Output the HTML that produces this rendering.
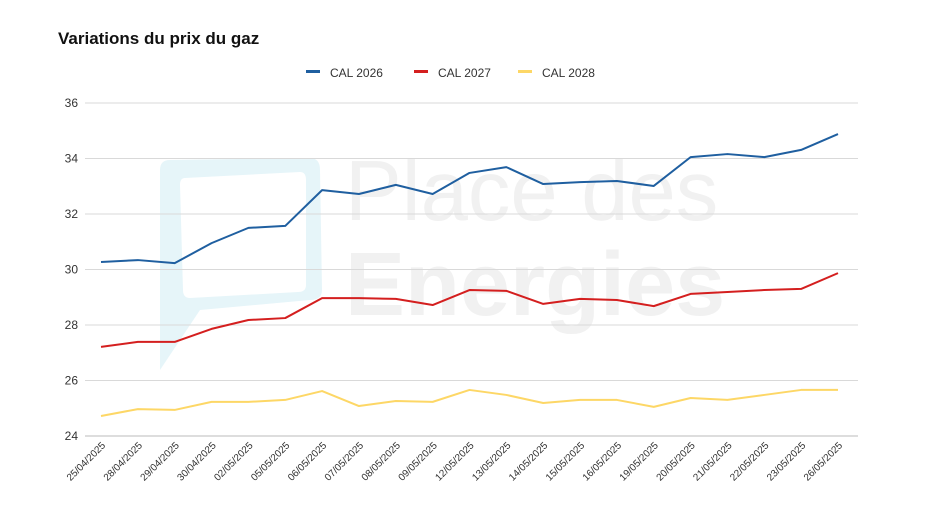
<!DOCTYPE html>
<html><head><meta charset="utf-8"><style>
body{margin:0;background:#fff;width:936px;height:526px;overflow:hidden;font-family:"Liberation Sans",Arial,sans-serif}
svg text{font-family:"Liberation Sans",Arial,sans-serif}
</style></head><body>
<svg id="chart" width="936" height="526" viewBox="0 0 936 526">
<text x="58" y="44" font-size="17" font-weight="bold" fill="#111">Variations du prix du gaz</text>
<g opacity="1">
<path d="M170 160 L310 158 Q320 158 320 170 L322 290 Q322 300 310 300 L200 310 L160 370 L160 170 Q160 160 170 160 Z" fill="#e6f5f9"/>
<path d="M185 178 L300 172 Q306 172 306 180 L306 285 Q306 292 298 292 L190 298 Q183 298 183 290 L180 185 Q180 178 185 178 Z" fill="#fff"/>
<text x="345" y="220" font-size="85" fill="#f1f1f1">Place des</text>
<text x="345" y="315" font-size="90" font-weight="bold" fill="#f1f1f1">Energies</text>
</g>
<g id="grid"></g><g id="series"></g><g id="xlabels"></g>
<g font-size="12" fill="#333">
<g><rect x="306" y="70" width="14" height="3" fill="#1f5fa0"/><text x="330" y="77">CAL 2026</text></g>
<g><rect x="414" y="70" width="14" height="3" fill="#d41f1f"/><text x="438" y="77">CAL 2027</text></g>
<g><rect x="518" y="70" width="14" height="3" fill="#fdd766"/><text x="542" y="77">CAL 2028</text></g>
</g>
</svg>
<script>
const dates=["25/04/2025","28/04/2025","29/04/2025","30/04/2025","02/05/2025","05/05/2025","06/05/2025","07/05/2025","08/05/2025","09/05/2025","12/05/2025","13/05/2025","14/05/2025","15/05/2025","16/05/2025","19/05/2025","20/05/2025","21/05/2025","22/05/2025","23/05/2025","26/05/2025"];
const cal2026=[30.27,30.34,30.23,30.95,31.50,31.57,32.86,32.72,33.05,32.72,33.48,33.69,33.08,33.15,33.19,33.01,34.05,34.16,34.05,34.31,34.88];
const cal2027=[27.21,27.39,27.39,27.86,28.18,28.25,28.97,28.97,28.94,28.72,29.26,29.23,28.76,28.94,28.90,28.68,29.12,29.19,29.26,29.30,29.87];
const cal2028=[24.72,24.97,24.94,25.23,25.23,25.30,25.62,25.08,25.26,25.23,25.66,25.48,25.19,25.30,25.30,25.05,25.37,25.30,25.48,25.66,25.66];
const yTicks=[24,26,28,30,32,34,36];
const NS="http://www.w3.org/2000/svg";
const yMin=24,yMax=36,yTop=103,yBot=436,xL=101,xR=838;
function y(v){return yBot-(v-yMin)/(yMax-yMin)*(yBot-yTop);}
function x(i){return xL+i*(xR-xL)/(dates.length-1);}
const grid=document.getElementById('grid');
yTicks.forEach(t=>{
 const l=document.createElementNS(NS,'line');
 
 
 l.setAttribute('x1',85);l.setAttribute('x2',858);l.setAttribute('y1',y(t));l.setAttribute('y2',y(t));
 l.setAttribute('stroke',t===24?'#bbb':'#d9d9d9');l.setAttribute('stroke-width','1');
 grid.appendChild(l);
 const tx=document.createElementNS(NS,'text');
 
 
 tx.setAttribute('x',78);tx.setAttribute('y',y(t)+4);tx.setAttribute('text-anchor','end');
 tx.setAttribute('font-size','12');tx.setAttribute('fill','#333');tx.textContent=t;
 grid.appendChild(tx);
});
const ser=document.getElementById('series');
[[cal2026,'#1f5fa0','line-cal-2026'],[cal2027,'#d41f1f','line-cal-2027'],[cal2028,'#fdd766','line-cal-2028']].forEach(([d,c,n])=>{
 const p=document.createElementNS(NS,'polyline');
 
 
 p.setAttribute('points',d.map((v,i)=>x(i)+','+y(v)).join(' '));
 p.setAttribute('fill','none');p.setAttribute('stroke',c);p.setAttribute('stroke-width','2');p.setAttribute('stroke-linejoin','round');
 ser.appendChild(p);
});
const xl=document.getElementById('xlabels');
dates.forEach((d,i)=>{
 const t=document.createElementNS(NS,'text');
 
 
 t.setAttribute('transform','translate('+(x(i)+5)+',446) rotate(-45)');
 t.setAttribute('text-anchor','end');t.setAttribute('font-size','10');t.setAttribute('fill','#333');
 t.textContent=d;xl.appendChild(t);
});
</script>
</body></html>
